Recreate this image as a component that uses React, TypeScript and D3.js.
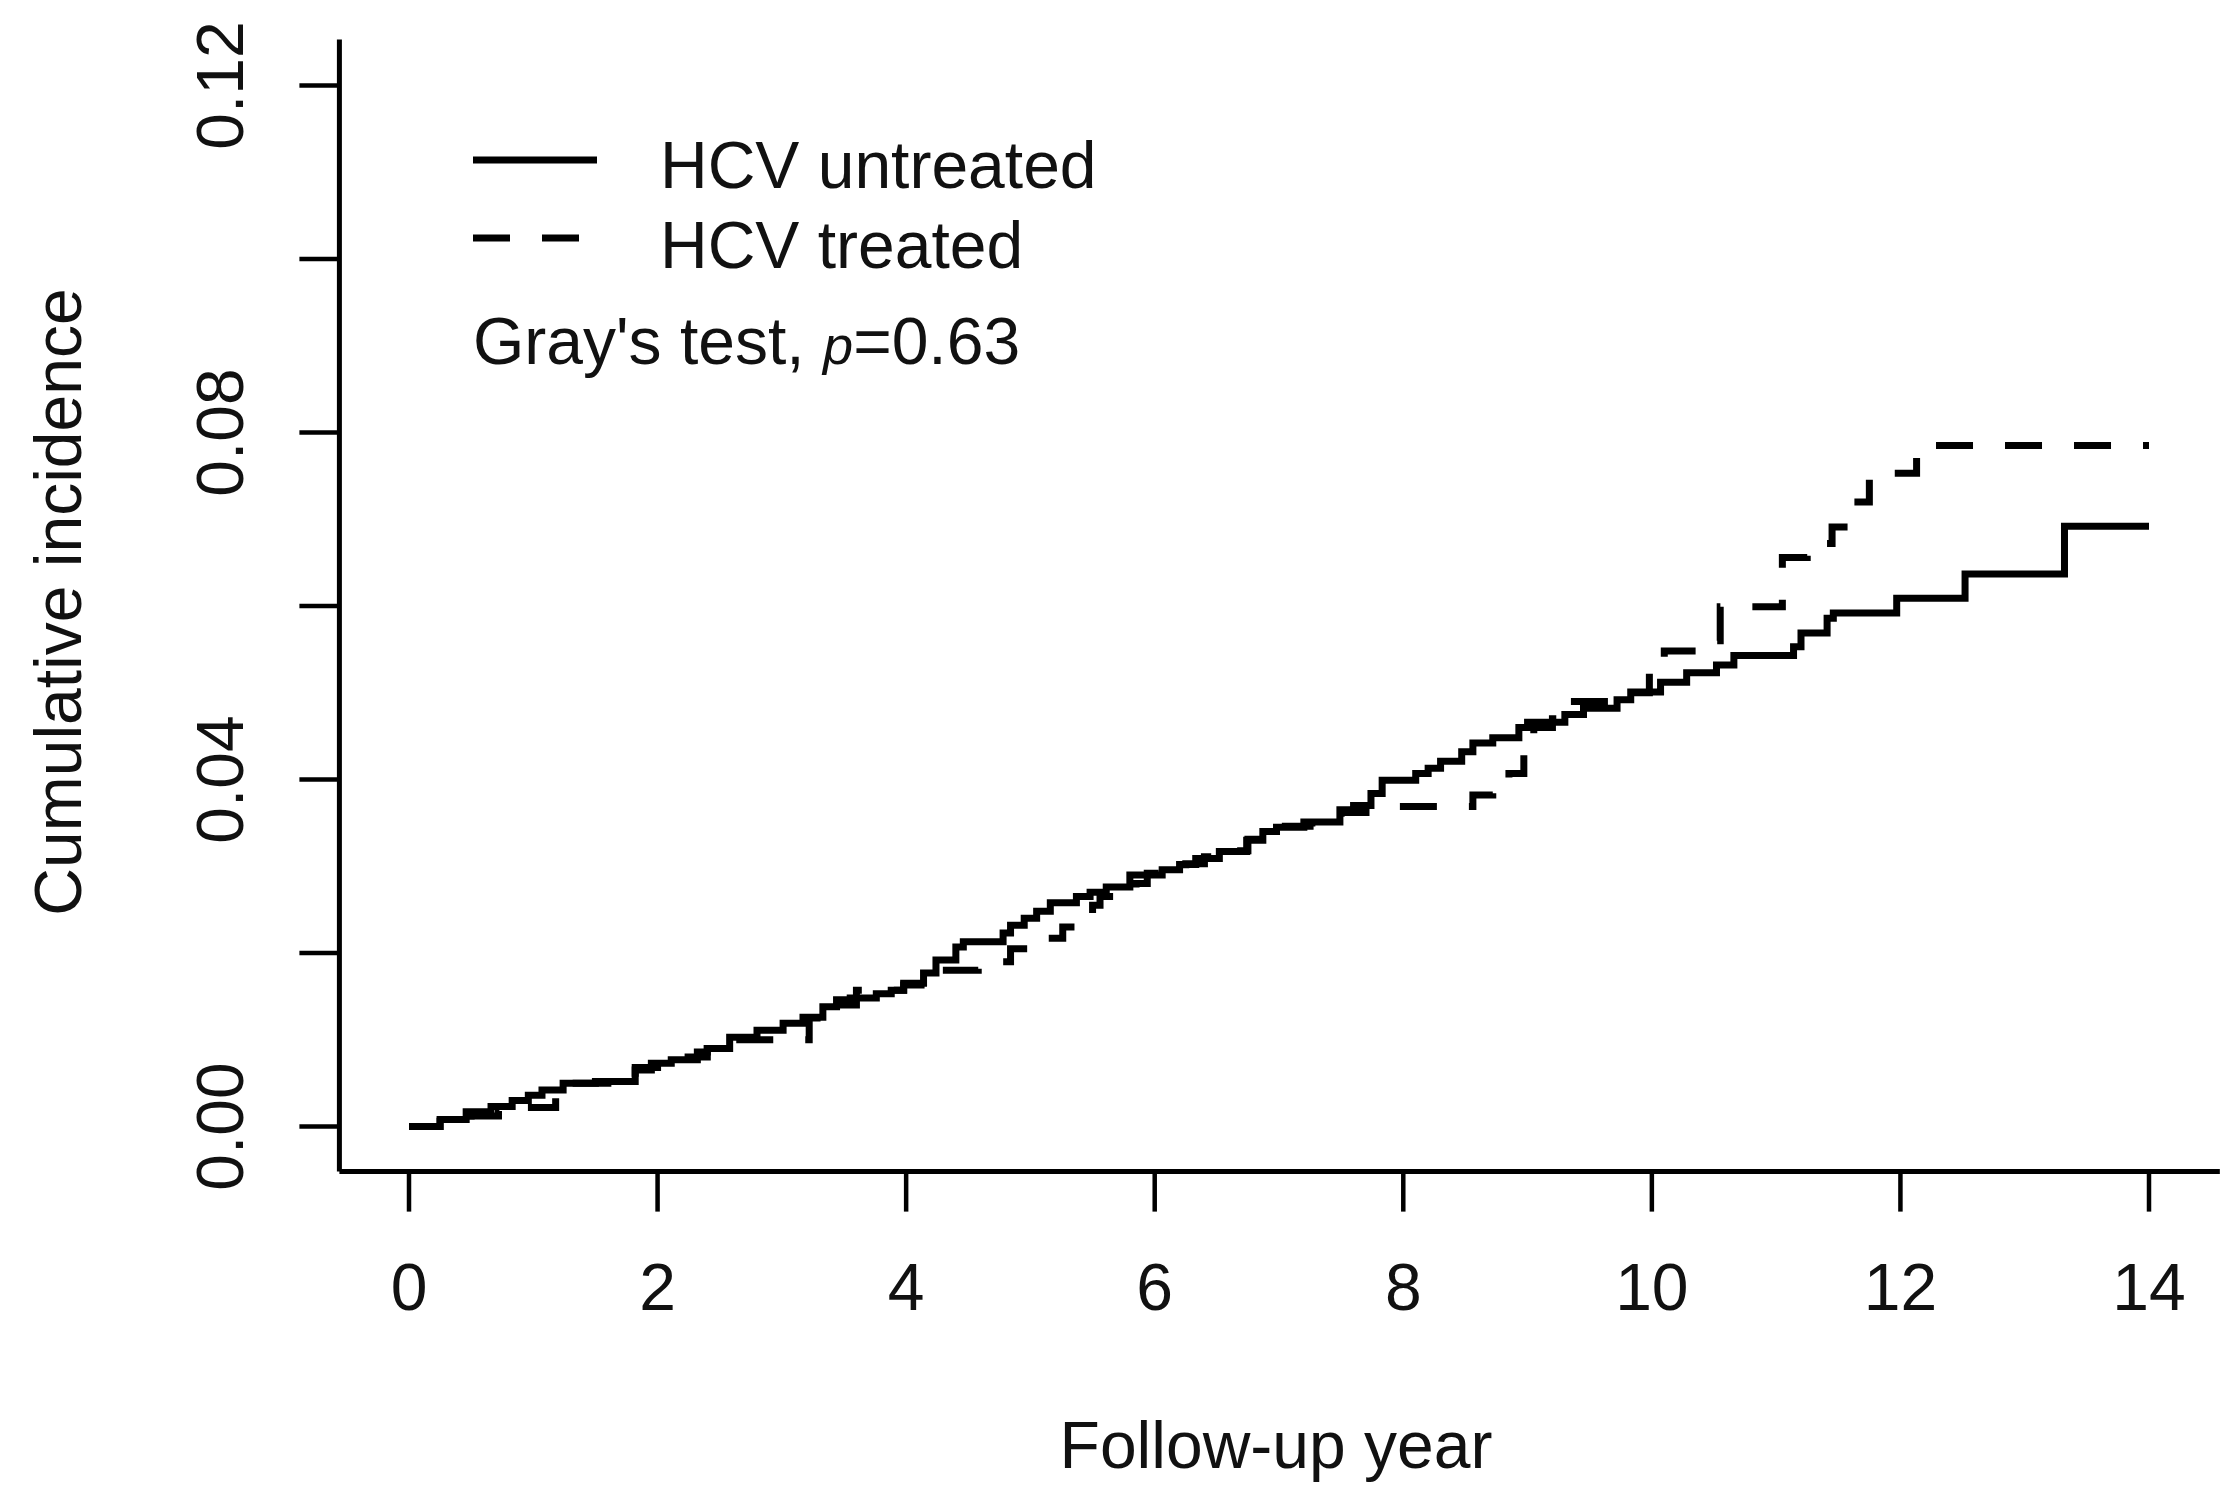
import React from 'react';
import * as d3 from 'd3';

// step times (years) and cumulative incidence after each step
const untreatedTimes = [
  0, 0.25, 0.46, 0.66, 0.83, 0.96, 1.07, 1.24, 1.5, 1.82, 1.95, 2.11, 2.32, 2.4, 2.58, 2.8, 3.01, 3.17,
  3.33, 3.44, 3.55, 3.76, 3.88, 3.98, 4.14, 4.24, 4.4, 4.46, 4.78, 4.84, 4.95, 5.05, 5.16, 5.37, 5.48,
  5.61, 5.8, 6.06, 6.2, 6.33, 6.52, 6.74, 6.87, 6.98, 7.2, 7.49, 7.6, 7.74, 7.83, 8.1, 8.2, 8.3, 8.47,
  8.56, 8.72, 8.93, 9.0, 9.3, 9.45, 9.72, 9.83, 10.07, 10.28, 10.52, 10.66, 11.14, 11.2, 11.41, 11.46,
  11.97, 12.52, 13.32, 14,
];
const untreatedCI = [
  0, 0.0008, 0.0017, 0.0023, 0.003, 0.0036, 0.0042, 0.005, 0.0052, 0.0065, 0.0073, 0.0077, 0.0086, 0.009,
  0.0103, 0.0111, 0.0119, 0.0126, 0.0138, 0.0146, 0.0148, 0.0153, 0.0157, 0.0165, 0.0177, 0.0192, 0.0207,
  0.0213, 0.0223, 0.0232, 0.024, 0.0248, 0.0258, 0.0265, 0.027, 0.0276, 0.029, 0.0296, 0.0302, 0.0309,
  0.0317, 0.033, 0.034, 0.0345, 0.0351, 0.0365, 0.037, 0.0384, 0.0399, 0.0407, 0.0413, 0.0421, 0.0432,
  0.0442, 0.0448, 0.046, 0.0466, 0.0475, 0.0482, 0.0492, 0.0501, 0.0512, 0.0523, 0.0532, 0.0543, 0.0553,
  0.0569, 0.0586, 0.0592, 0.0609, 0.0637, 0.0692, 0.0692,
];

const treatedTimes = [
  0, 0.25, 0.5, 0.72, 0.95, 1.18, 1.3, 1.6, 1.82, 2.0, 2.2, 2.4, 2.6, 3.22, 3.4, 3.6, 3.98, 4.12, 4.19,
  4.58, 4.84, 5.02, 5.26, 5.37, 5.5, 5.56, 5.74, 5.85, 5.94, 6.06, 6.25, 6.4, 6.55, 6.75, 6.9, 7.02, 7.25,
  7.5, 7.7, 8.56, 8.72, 8.85, 8.97, 9.05, 9.2, 9.3, 9.85, 9.98, 10.1, 10.5, 10.55, 11.05, 11.25, 11.45,
  11.62, 11.75, 12.13, 14,
];
const treatedCI = [
  0, 0.0006, 0.0012, 0.0018, 0.0022, 0.004, 0.005, 0.0055, 0.0068, 0.0075, 0.008, 0.009, 0.01, 0.0125,
  0.014, 0.0157, 0.0163, 0.0172, 0.018, 0.019, 0.0205, 0.0217, 0.023, 0.0241, 0.0255, 0.0265, 0.027,
  0.028, 0.0292, 0.0296, 0.0303, 0.0311, 0.0318, 0.0331, 0.0341, 0.0346, 0.035, 0.0362, 0.0369, 0.0382,
  0.0397, 0.0407, 0.0434, 0.046, 0.047, 0.049, 0.05, 0.0523, 0.0548, 0.056, 0.0599, 0.0656, 0.0672,
  0.0691, 0.072, 0.0753, 0.0785, 0.0785,
];

const xTicks = [0, 2, 4, 6, 8, 10, 12, 14];
const yTicks = [0, 0.02, 0.04, 0.06, 0.08, 0.1, 0.12];
const yTickLabels = ['0.00', '', '0.04', '', '0.08', '', '0.12'];

const W = 2236;
const H = 1500;
const FONT = '"Liberation Sans", Arial, Helvetica, sans-serif';
const FS = 66;

const App: React.FC = () => {
  const x = d3.scaleLinear().domain([0, 14]).range([409, 2149]);
  const y = d3.scaleLinear().domain([0, 0.12]).range([1126.5, 85.5]);

  // R-style expanded plot limits for the L-shaped frame
  const x0 = x(-0.56);
  const x1 = x(14.57);
  const yBottom = y(-0.0052);
  const yTop = y(0.1253);

  const line = d3
    .line<[number, number]>()
    .x((d) => x(d[0]))
    .y((d) => y(d[1]))
    .curve(d3.curveStepAfter);

  const untreated = untreatedTimes.map((t, i) => [t, untreatedCI[i]] as [number, number]);
  const treated = treatedTimes.map((t, i) => [t, treatedCI[i]] as [number, number]);

  const lw = 7;
  const dash = '37 32';

  return (
    <svg
      width={W}
      height={H}
      style={{ position: 'absolute', left: 0, top: 0, background: '#fff' }}
      fontFamily={FONT}
    >
      <rect width={W} height={H} fill="#fff" />

      {/* axes */}
      <line x1={x0} x2={x0} y1={yTop} y2={yBottom} stroke="#000" strokeWidth={5} />
      <line x1={x0} x2={x1} y1={yBottom} y2={yBottom} stroke="#000" strokeWidth={5} />

      {yTicks.map((t, i) => (
        <g key={t}>
          <line x1={x0 - 40} x2={x0} y1={y(t)} y2={y(t)} stroke="#000" strokeWidth={4.5} />
          {yTickLabels[i] && (
            <text
              transform={`translate(243,${y(t)}) rotate(-90)`}
              textAnchor="middle"
              fontSize={FS}
              fill="#111"
            >
              {yTickLabels[i]}
            </text>
          )}
        </g>
      ))}

      {xTicks.map((t) => (
        <g key={t}>
          <line x1={x(t)} x2={x(t)} y1={yBottom} y2={yBottom + 40} stroke="#000" strokeWidth={4.5} />
          <text x={x(t)} y={1310} textAnchor="middle" fontSize={FS} fill="#111">
            {t}
          </text>
        </g>
      ))}

      <text x={1276} y={1468} textAnchor="middle" fontSize={FS} fill="#111">
        Follow-up year
      </text>
      <text transform="translate(81,602) rotate(-90)" textAnchor="middle" fontSize={FS} fill="#111">
        Cumulative incidence
      </text>

      {/* curves */}
      <path d={line(untreated) || ''} fill="none" stroke="#000" strokeWidth={lw} strokeLinejoin="miter" />
      <path
        d={line(treated) || ''}
        fill="none"
        stroke="#000"
        strokeWidth={lw}
        strokeDasharray={dash}
        strokeLinejoin="miter"
      />

      {/* legend */}
      <line x1={473} x2={597} y1={160} y2={160} stroke="#000" strokeWidth={lw} />
      <line x1={473} x2={597} y1={238} y2={238} stroke="#000" strokeWidth={lw} strokeDasharray={dash} />
      <text x={660} y={188} fontSize={FS} fill="#111">
        HCV untreated
      </text>
      <text x={660} y={268} fontSize={FS} fill="#111">
        HCV treated
      </text>
      <text x={473} y={364} fontSize={FS} fill="#111">
        Gray's test,{' '}
        <tspan fontStyle="italic" fontSize={FS * 0.82}>
          p
        </tspan>
        =0.63
      </text>
    </svg>
  );
};

export default App;
